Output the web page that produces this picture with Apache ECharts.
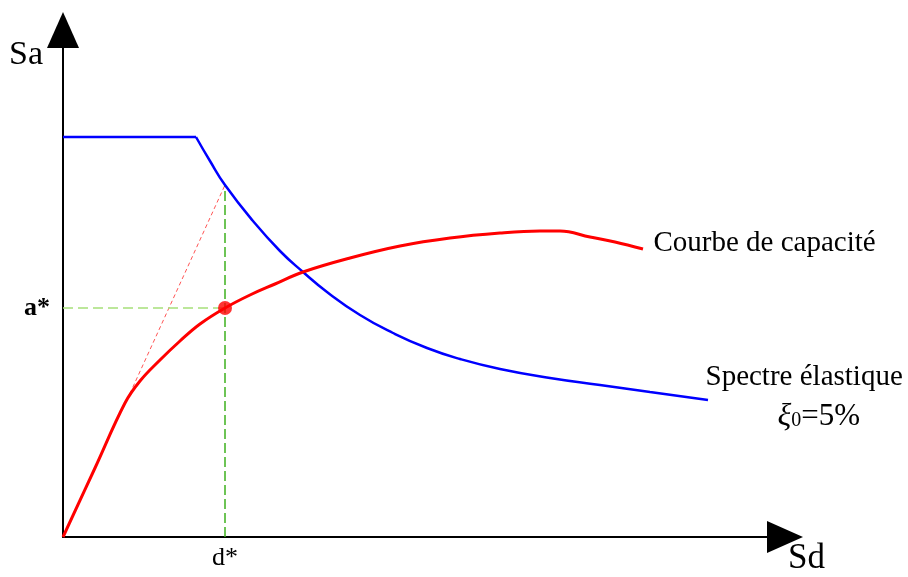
<!DOCTYPE html>
<html><head><meta charset="utf-8">
<script src="https://cdn.jsdelivr.net/npm/echarts@6/dist/echarts.min.js"></script>
<style>html,body{margin:0;padding:0;background:#fff}#c{width:908px;height:577px}</style>
</head><body><div id="c"></div>
<script>
// Data (arbitrary units)
const spectrumX = [0,133,147,162,190,217,240,264,297,330,364,397,437,487,537,587,645];
const spectrumY = [400,400,376,352,316,286,265,245,222,204,189,178,168,159,152,145,137];
const capacityX = [0,32,62,77,97,117,137,162,187,212,240,287,337,387,437,477,497,527,552,580];
const capacityY = [0,69,134,156,177,196,213,229,242,253,265,279,291,299,304,306,306,300,295,288];
const perfPoint = [162,229];
const spectrumAtD = 352;
const secantStart = [64,137];
const xTickLabel = 'd*';
const yTickLabel = 'a*';
const xAxisName = 'Sd';
const yAxisName = 'Sa';
const capacityName = 'Courbe de capacité';
const spectrumName = 'Spectre élastique';
const xMax = 722, yMax = 507;

const FONT = "'Liberation Serif','DejaVu Serif',serif";
const zip = (xs, ys) => xs.map((x, i) => [x, ys[i]]);
const spectrum = zip(spectrumX, spectrumY);
const spectrumPlateau = spectrum.slice(0, 2);
const spectrumDecay = spectrum.slice(1);
const capacity = zip(capacityX, capacityY);
const lastS = spectrum[spectrum.length - 1];
const lastC = capacity[capacity.length - 1];

const chart = echarts.init(document.getElementById('c'), null, {renderer: 'canvas'});
chart.setOption({
  animation: false,
  backgroundColor: '#fff',
  grid: {left: 63, right: 123, top: 30, bottom: 40, containLabel: false, outerBoundsMode: 'none'},
  xAxis: {
    type: 'value', min: 0, max: xMax,
    name: xAxisName, nameLocation: 'end', nameGap: 3,
    nameTextStyle: {fontFamily: FONT, fontSize: 35, color: '#000', align: 'left', verticalAlign: 'top', padding: [4, 0, 0, 0]},
    axisLine: {show: true, onZero: false, symbol: ['none', 'triangle'], symbolSize: [32, 36], lineStyle: {color: '#000', width: 2}},
    axisTick: {show: false}, splitLine: {show: false},
    axisLabel: {show: true, customValues: [perfPoint[0]], formatter: () => xTickLabel, margin: 8,
      fontFamily: FONT, fontSize: 26, color: '#000'}
  },
  yAxis: {
    type: 'value', min: 0, max: yMax,
    name: yAxisName, nameLocation: 'end', nameGap: -25,
    nameTextStyle: {fontFamily: FONT, fontSize: 34, color: '#000', align: 'right', verticalAlign: 'middle', padding: [0, 20, 0, 0]},
    axisLine: {show: true, onZero: false, symbol: ['none', 'triangle'], symbolSize: [32, 36], lineStyle: {color: '#000', width: 2}},
    axisTick: {show: false}, splitLine: {show: false},
    axisLabel: {show: true, customValues: [perfPoint[1]], formatter: () => yTickLabel, margin: 13,
      fontFamily: FONT, fontSize: 26, fontWeight: 'bold', color: '#000'}
  },
  series: [
    {type: 'line', name: 'secant', data: [secantStart, [perfPoint[0], spectrumAtD]], symbol: 'none',
      lineStyle: {color: '#ff5555', width: 1, type: [4, 3]}, z: 1},
    {type: 'line', name: 'aStar', data: [[0, perfPoint[1]], perfPoint], symbol: 'none',
      lineStyle: {color: '#a6e07a', width: 1.5, type: [10, 5]}, z: 1},
    {type: 'line', name: 'dStar', data: [[perfPoint[0], 0], [perfPoint[0], spectrumAtD]], symbol: 'none',
      lineStyle: {color: '#3cb01c', width: 1.5, type: [10, 4]}, z: 1},
    {type: 'line', name: spectrumName + ' plateau', data: spectrumPlateau, symbol: 'none',
      lineStyle: {color: '#0000ff', width: 2.5}, z: 2},
    {type: 'line', name: spectrumName, data: spectrumDecay, symbol: 'none', smooth: 0.5,
      lineStyle: {color: '#0000ff', width: 2.5}, z: 2,
      markPoint: {symbol: 'circle', symbolSize: 1, itemStyle: {color: 'rgba(0,0,0,0)'},
        data: [{coord: lastS, label: {show: true, position: 'right', distance: 0, offset: [-3, -3],
          align: 'left', verticalAlign: 'middle', color: '#000',
          formatter: '{a|' + spectrumName + '}\n{xi|ξ}{sub|0}{t|=5%}',
          rich: {
            a: {fontFamily: FONT, fontSize: 29, lineHeight: 40, color: '#000'},
            xi: {fontFamily: FONT, fontSize: 32, fontStyle: 'italic', lineHeight: 40, padding: [0, 0, 0, 72], color: '#000'},
            sub: {fontFamily: FONT, fontSize: 20, lineHeight: 40, padding: [8, 0, 0, 0], color: '#000'},
            t: {fontFamily: FONT, fontSize: 31, lineHeight: 40, color: '#000'}
          }}}]}},
    {type: 'line', name: capacityName, data: capacity, symbol: 'none', smooth: 0.4,
      lineStyle: {color: '#ff0000', width: 3}, z: 3,
      markPoint: {symbol: 'circle', symbolSize: 1, itemStyle: {color: 'rgba(0,0,0,0)'},
        data: [{coord: lastC, label: {show: true, position: 'right', distance: 0, offset: [10, -6],
          align: 'left', verticalAlign: 'middle', color: '#000',
          fontFamily: FONT, fontSize: 29, formatter: capacityName}}]}},
    {type: 'scatter', name: 'perf', data: [perfPoint], symbol: 'circle', symbolSize: 14,
      itemStyle: {color: '#ff0000'}, z: 4}
  ]
});
</script></body></html>
